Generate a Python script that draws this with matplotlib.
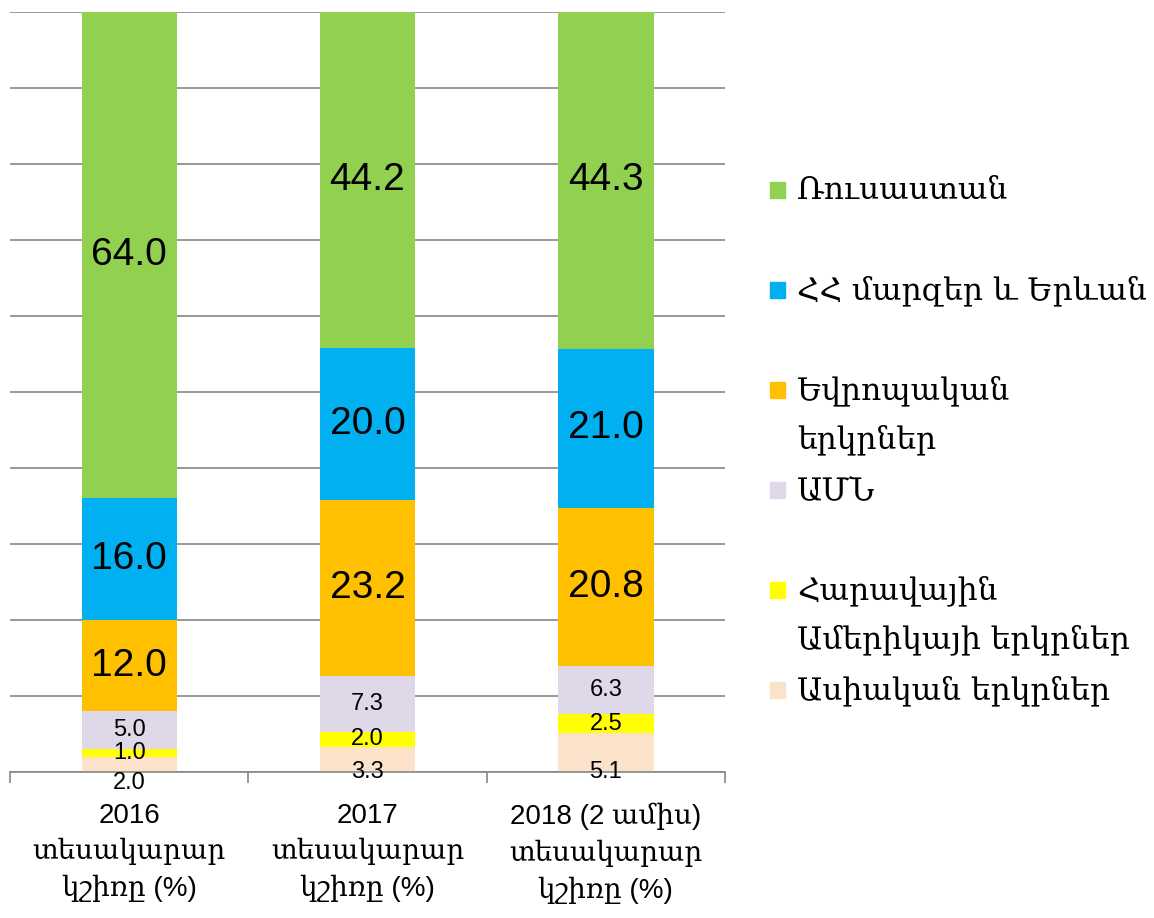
import matplotlib.pyplot as plt
import numpy as np
from matplotlib.patches import Rectangle

# categories and series (percent shares)
categories = ["2016\nտեսակարար\nկշիռը (%)",
              "2017\nտեսակարար\nկշիռը (%)",
              "2018 (2 ամիս)\nտեսակարար\nկշիռը (%)"]
series_names = ["Ասիական երկրներ",
                "Հարավային\nԱմերիկայի երկրներ",
                "ԱՄՆ",
                "Եվրոպական\nերկրներ",
                "ՀՀ մարզեր և Երևան",
                "Ռուսաստան"]
asia = [2.0, 3.3, 5.1]
south_america = [1.0, 2.0, 2.5]
usa = [5.0, 7.3, 6.3]
europe = [12.0, 23.2, 20.8]
regions = [16.0, 20.0, 21.0]
russia = [64.0, 44.2, 44.3]
colors = ["#FDE2CB", "#FFFF00", "#DFD8E8", "#FFC000", "#00B0F0", "#92D050"]

stack = [asia, south_america, usa, europe, regions, russia]

NUM_FONT = ['Liberation Sans', 'DejaVu Serif']
ARM_FONT = ['DejaVu Serif']

fig = plt.figure(figsize=(11.54, 9.18), dpi=100)
ax = fig.add_axes([10 / 1154, 146 / 918, 715 / 1154, 760 / 918])

x = np.arange(len(categories))
bottom = np.zeros(len(categories))
for i, (vals, col) in enumerate(zip(stack, colors)):
    vals = np.array(vals)
    ax.bar(x, vals, width=0.4, bottom=bottom, color=col, zorder=2)
    for j, v in enumerate(vals):
        big = v >= 10
        yc = bottom[j] + v / 2
        # the base segment label sits on the axis line
        if i == 0:
            yc = 0 if v >= 3 else -1.4
        ax.text(x[j], yc, f"{v:.1f}", ha='center', va='center',
                fontsize=28 if big else 17, family=NUM_FONT, zorder=3)
    bottom += vals

ax.set_xlim(-0.5, len(categories) - 0.5)
ax.set_ylim(0, 100)
ax.set_yticks(np.arange(0, 101, 10))
ax.yaxis.grid(True, color='#868686', linewidth=1.2, zorder=0)
ax.tick_params(axis='y', left=False, labelleft=False)
for s in ['left', 'right', 'top']:
    ax.spines[s].set_visible(False)
ax.spines['bottom'].set_color('#868686')
ax.spines['bottom'].set_linewidth(1.2)

ax.set_xticks(np.arange(-0.5, len(categories), 1.0), minor=True)
ax.set_xticks(x)
ax.set_xticklabels(categories, fontsize=20, family=NUM_FONT, linespacing=1.45)
ax.tick_params(axis='x', which='major', length=0, pad=22)
ax.tick_params(axis='x', which='minor', length=8, color='#868686', width=1.2)

# legend drawn by hand, first line aligned with marker
leg_x = 770 / 1154
for k, name in enumerate(reversed(series_names)):
    y_px = 190 + k * 100
    yf = 1 - y_px / 918
    fig.patches.append(Rectangle((leg_x, yf - 8 / 918), 15 / 1154, 16 / 918,
                                 transform=fig.transFigure, color=colors[::-1][k]))
    fig.text(797 / 1154, 1 - (y_px - 15) / 918, name, fontsize=22.5,
             family=ARM_FONT, va='top', ha='left', linespacing=1.75)

fig.savefig("out.png", dpi=100)
